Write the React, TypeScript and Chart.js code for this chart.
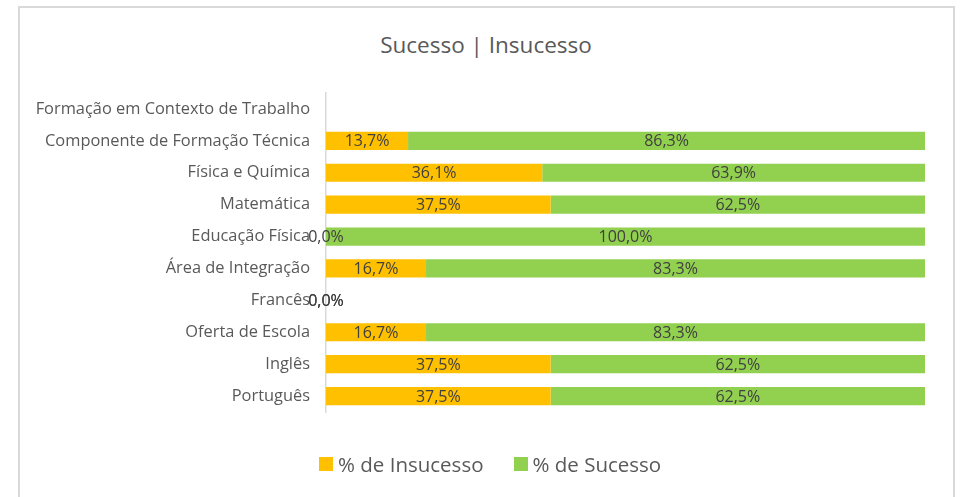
import React, { useEffect, useRef } from "react";
import { Chart, registerables } from "chart.js";

Chart.register(...registerables);

const categories = [
  "Formação em Contexto de Trabalho",
  "Componente de Formação Técnica",
  "Física e Química",
  "Matemática",
  "Educação Física",
  "Área de Integração",
  "Francês",
  "Oferta de Escola",
  "Inglês",
  "Português",
];
const insucesso: (number | null)[] = [null, 13.7, 36.1, 37.5, 0, 16.7, 0, 16.7, 37.5, 37.5];
const sucesso: (number | null)[] = [null, 86.3, 63.9, 62.5, 100, 83.3, 0, 83.3, 62.5, 62.5];
const seriesNames = ["% de Insucesso", "% de Sucesso"];
const seriesColors = ["#FFC000", "#92D050"];
const titleText = "Sucesso | Insucesso";

const FONT = "'Open Sans', 'Noto Sans', sans-serif";

const labelPlugin = {
  id: "barLabels",
  afterDatasetsDraw(chart: any) {
    const ctx = chart.ctx;
    ctx.save();
    ctx.font = `16px ${FONT}`;
    ctx.fillStyle = "#404040";
    ctx.textAlign = "center";
    ctx.textBaseline = "middle";
    chart.data.datasets.forEach((ds: any, di: number) => {
      const meta = chart.getDatasetMeta(di);
      meta.data.forEach((bar: any, i: number) => {
        const v = ds.data[i];
        if (v === null || v === undefined) return;
        const txt = v.toFixed(1).replace(".", ",") + "%";
        const x = (bar.base + bar.x) / 2;
        ctx.fillText(txt, x, bar.y + 1);
      });
    });
    ctx.restore();
  },
};

export default function App() {
  const ref = useRef<HTMLCanvasElement>(null);
  useEffect(() => {
    if (!ref.current) return;
    const chart = new Chart(ref.current, {
      type: "bar",
      data: {
        labels: categories,
        datasets: [
          {
            label: seriesNames[0],
            data: insucesso as any,
            backgroundColor: seriesColors[0],
            barPercentage: 0.57,
            categoryPercentage: 1,
          },
          {
            label: seriesNames[1],
            data: sucesso as any,
            backgroundColor: seriesColors[1],
            barPercentage: 0.57,
            categoryPercentage: 1,
          },
        ],
      },
      options: {
        indexAxis: "y",
        animation: false,
        responsive: false,
        maintainAspectRatio: false,
        layout: { padding: { top: 93, bottom: 85, left: 20, right: 43 } },
        plugins: {
          legend: { display: false },
          title: { display: false },
          tooltip: { enabled: false },
        },
        scales: {
          x: {
            stacked: true,
            display: false,
            min: 0,
            max: 100,
          },
          y: {
            stacked: true,
            grid: { display: false },
            border: { display: true, color: "#d9d9d9", width: 1.5 },
            ticks: {
              color: "#595959",
              font: { family: FONT, size: 16.4 },
              padding: 8,
              autoSkip: false,
            },
            afterFit(scale: any) {
              scale.width = 306;
            },
          },
        },
      },
      plugins: [labelPlugin],
    });
    return () => chart.destroy();
  }, []);

  return (
    <div
      style={{
        position: "fixed",
        left: 0,
        top: 0,
        width: 968,
        height: 497,
        background: "#fff",
        overflow: "hidden",
        fontFamily: FONT,
      }}
    >
      <div
        style={{
          position: "absolute",
          left: 18,
          top: 6,
          width: 933,
          height: 520,
          border: "2px solid #d9d9d9",
        }}
      />
      <div
        style={{
          position: "absolute",
          left: 0,
          top: 30,
          width: 972,
          textAlign: "center",
          fontSize: 22.5,
          lineHeight: "30px",
          color: "#595959",
        }}
      >
        {titleText}
      </div>
      <canvas
        ref={ref}
        width={968}
        height={497}
        style={{ position: "absolute", left: 0, top: 0 }}
      />
      <div
        style={{
          position: "absolute",
          left: 319,
          top: 450,
          display: "flex",
          alignItems: "center",
          fontSize: 20.5,
          lineHeight: "28px",
          color: "#595959",
        }}
      >
        {seriesNames.map((n, i) => (
          <div key={n} style={{ display: "flex", alignItems: "center", marginRight: i === 0 ? 30 : 0 }}>
            <span
              style={{
                display: "inline-block",
                width: 14,
                height: 14,
                background: seriesColors[i],
                marginRight: 5,
              }}
            />
            <span>{n}</span>
          </div>
        ))}
      </div>
    </div>
  );
}
